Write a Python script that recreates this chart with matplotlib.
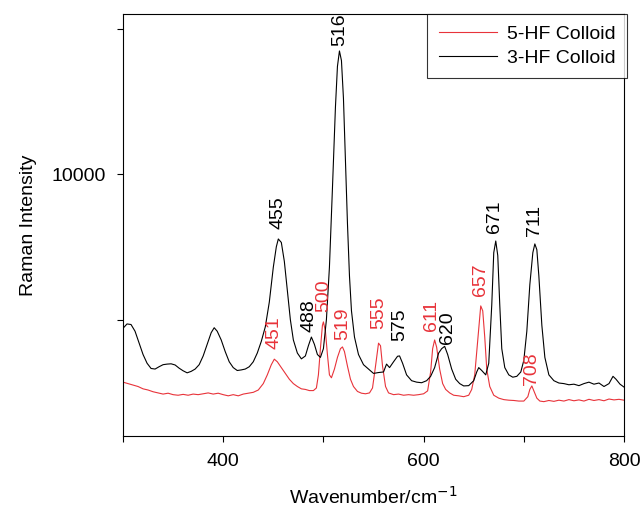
import numpy as np
import matplotlib.pyplot as plt

plt.rcParams['font.family'] = ['Liberation Sans', 'DejaVu Sans']

# 3-HF colloid spectrum (wavenumber, intensity)
wn_3hf = [300, 304, 308, 312, 316, 320, 324, 328, 332, 336, 340, 344, 348, 352,
          356, 360, 364, 368, 372, 376, 380, 384, 388, 391, 394, 398, 402, 406,
          410, 414, 418, 422, 426, 430, 434, 438, 442, 446, 450, 453, 455, 458,
          461, 464, 467, 470, 474, 478, 482, 485, 488, 491, 494, 497, 500, 503,
          506, 509, 512, 514, 516, 518, 520, 522, 524, 526, 528, 531, 535, 540,
          545, 550, 555, 560, 563, 566, 570, 574, 576, 579, 583, 588, 593, 598,
          603, 607, 611, 615, 618, 621, 624, 628, 632, 636, 640, 645, 650, 653,
          655, 658, 662, 665, 668, 670, 672, 674, 676, 678, 681, 685, 689, 693,
          697, 700, 703, 706, 709, 711, 713, 715, 718, 721, 725, 730, 735, 740,
          745, 750, 755, 760, 765, 770, 775, 780, 785, 789, 792, 796, 800]
int_3hf = [4700, 4850, 4830, 4600, 4200, 3800, 3500, 3320, 3300, 3380, 3450, 3470,
           3480, 3440, 3330, 3240, 3170, 3220, 3300, 3450, 3750, 4150, 4550, 4720,
           4600, 4300, 3900, 3550, 3350, 3250, 3270, 3300, 3380, 3550, 3850, 4250,
           4750, 5600, 6800, 7500, 7770, 7650, 7000, 6000, 5000, 4300, 3850, 3650,
           3750, 4100, 4400, 4150, 3800, 3700, 4000, 5000, 6800, 9500, 12300, 13700,
           14230, 13900, 12600, 10500, 8300, 6500, 5300, 4400, 3800, 3450, 3300,
           3150, 3180, 3200, 3470, 3350, 3550, 3740, 3750, 3500, 3100, 2900, 2850,
           2830, 2900, 3050, 3350, 3850, 4000, 4080, 3800, 3300, 2950, 2800, 2720,
           2730, 2900, 3200, 3350, 3250, 3100, 3500, 5500, 7300, 7700, 7200, 5500,
           4000, 3350, 3100, 3020, 3050, 3200, 3600, 4600, 6200, 7300, 7600, 7400,
           6500, 4800, 3700, 3100, 2900, 2820, 2800, 2760, 2780, 2730, 2800, 2850,
           2780, 2820, 2700, 2800, 3050, 2950, 2780, 2680]

# 5-HF colloid spectrum (wavenumber, intensity)
wn_5hf = [300, 305, 310, 315, 320, 325, 330, 335, 340, 345, 350, 355, 360, 365,
          370, 375, 380, 385, 390, 395, 400, 405, 410, 415, 420, 425, 430, 435,
          440, 444, 448, 451, 454, 458, 462, 466, 470, 474, 478, 482, 486, 490,
          493, 495, 497, 499, 500, 502, 504, 506, 508, 511, 514, 517, 519, 521,
          524, 527, 530, 534, 538, 542, 546, 549, 552, 555, 557, 559, 562, 565,
          570, 575, 580, 585, 590, 595, 600, 604, 607, 609, 611, 613, 616, 619,
          622, 626, 630, 635, 640, 645, 648, 651, 654, 657, 659, 661, 663, 666,
          670, 675, 680, 685, 690, 695, 700, 704, 706, 708, 710, 713, 716, 720,
          725, 730, 735, 740, 745, 750, 755, 760, 765, 770, 775, 780, 785, 790,
          795, 800]
int_5hf = [2850, 2800, 2750, 2700, 2620, 2580, 2520, 2480, 2440, 2470, 2420, 2400,
           2430, 2400, 2440, 2420, 2450, 2480, 2440, 2470, 2420, 2380, 2420, 2380,
           2440, 2470, 2500, 2580, 2800, 3100, 3450, 3640, 3550, 3350, 3150, 2950,
           2800, 2700, 2620, 2600, 2560, 2560, 2650, 3100, 4000, 4800, 4920, 4600,
           3800, 3100, 3000, 3300, 3700, 4000, 4060, 3900, 3400, 2950, 2700, 2530,
           2470, 2450, 2480, 2650, 3400, 4190, 4100, 3400, 2700, 2480, 2420, 2440,
           2400, 2420, 2400, 2420, 2450, 2550, 3200, 4000, 4300, 4050, 3300, 2800,
           2600, 2480, 2400, 2380, 2350, 2400, 2600, 3100, 4300, 5470, 5300, 4400,
           3300, 2700, 2400, 2300, 2250, 2230, 2220, 2200, 2200, 2350, 2600, 2720,
           2550, 2300, 2200, 2180, 2220, 2190, 2230, 2200, 2250, 2210, 2240, 2200,
           2260, 2220, 2250, 2210, 2270, 2240, 2260, 2230]

# peak labels and their offsets from the peak top, in points (dx, dy)
peaks_3hf = [455, 488, 516, 575, 620, 671, 711]
offs_3hf = [(0, 7), (-1.5, 3.5), (0, 3.5), (1, 11), (3, 2), (0, 10), (0, 6)]
peaks_5hf = [451, 500, 519, 555, 611, 657, 708]
offs_5hf = [(0, 7), (0, 7), (0, 5), (0, 10), (-2, 6.5), (0, 7), (0, 0.5)]

red = '#e8333a'
fs = 14

fig = plt.figure(figsize=(6.42, 5.11), dpi=100)
ax = fig.add_axes([0.1916, 0.1468, 0.7804, 0.8258])

ax.plot(wn_5hf, int_5hf, color=red, lw=0.8, label='5-HF Colloid')
ax.plot(wn_3hf, int_3hf, color='black', lw=0.8, label='3-HF Colloid')

for p, o in zip(peaks_3hf, offs_3hf):
    y = np.interp(p, wn_3hf, int_3hf)
    ax.annotate(str(p), xy=(p, y), xytext=o, textcoords='offset points',
                rotation=90, ha='center', va='bottom', fontsize=fs, color='black')
for p, o in zip(peaks_5hf, offs_5hf):
    y = np.interp(p, wn_5hf, int_5hf)
    ax.annotate(str(p), xy=(p, y), xytext=o, textcoords='offset points',
                rotation=90, ha='center', va='bottom', fontsize=fs, color=red)

ax.set_xlim(300, 800)
ax.set_ylim(1000, 15500)
ax.set_xticks([300, 400, 500, 600, 700, 800])
ax.set_xticklabels(['', '400', '', '600', '', '800'])
ax.set_yticks([5000, 10000, 15000])
ax.set_yticklabels(['', '10000', ''])
ax.tick_params(direction='out', length=4.5, width=0.8, labelsize=fs, pad=8,
               top=False, right=False)

for s in ax.spines.values():
    s.set_linewidth(0.8)

ax.set_xlabel('Wavenumber/cm$^{-1}$', fontsize=fs, labelpad=11)
ax.set_ylabel('Raman Intensity', fontsize=fs, labelpad=10)

leg = ax.legend(loc='upper right', bbox_to_anchor=(1.006, 1.0), fontsize=fs,
                frameon=True, fancybox=False, borderaxespad=0, handlelength=3.0,
                handletextpad=0.5, borderpad=0.6, labelspacing=0.3)
leg.get_frame().set_edgecolor('black')
leg.get_frame().set_linewidth(0.8)

fig.savefig('out.png', dpi=100)
